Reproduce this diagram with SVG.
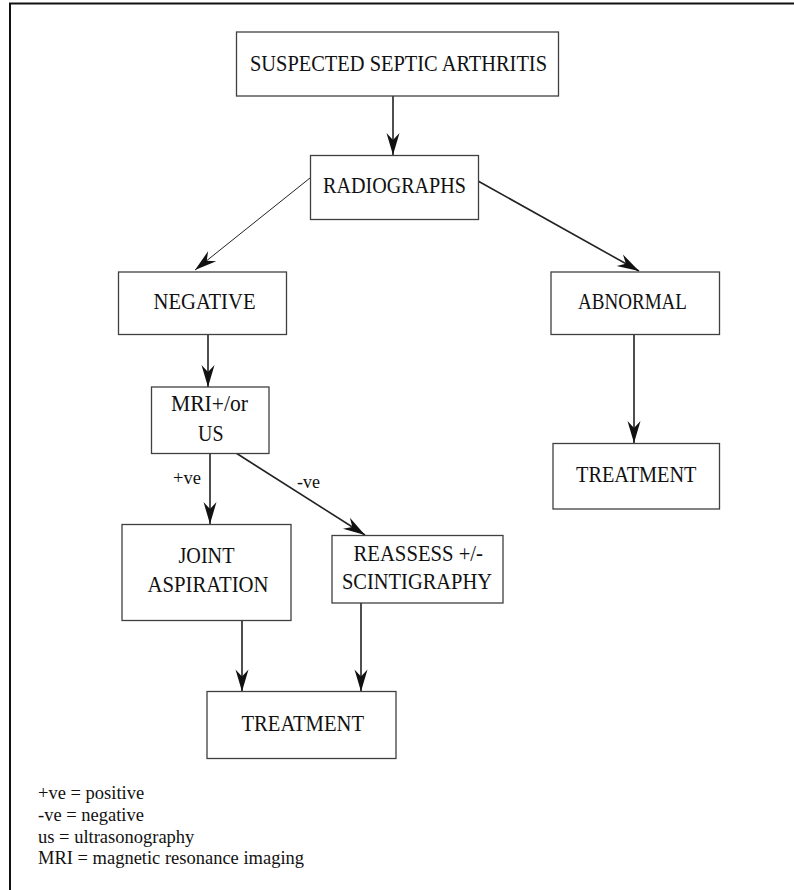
<svg xmlns="http://www.w3.org/2000/svg" width="794" height="890" viewBox="0 0 794 890">
<style>
.box{fill:#fff;stroke:#404040;stroke-width:1.3}
.t{font-family:"Liberation Serif","Times New Roman",serif;font-size:24px;fill:#111}
.s{font-family:"Liberation Serif","Times New Roman",serif;font-size:18.5px;fill:#111}
.c{stroke:#222;stroke-width:1.6;fill:none}
.thin{stroke-width:1}
</style>
<defs>
<marker id="ah" markerUnits="userSpaceOnUse" markerWidth="30" markerHeight="20" refX="24" refY="10" orient="auto" overflow="visible">
<path d="M24,10 L2,3.5 L9,10 L2,16.5 Z" fill="#111"/>
</marker>
</defs>
<rect width="794" height="890" fill="#fff"/>
<g id="frame" stroke="#111" stroke-width="2">
<line x1="9" y1="3.5" x2="794" y2="3.5"/>
<line x1="10" y1="3" x2="10" y2="890"/>
</g>
<g id="connectors">
<line class="c" x1="393" y1="96" x2="393" y2="155" marker-end="url(#ah)"/>
<line class="c thin" x1="310" y1="178" x2="195" y2="270" marker-end="url(#ah)"/>
<line class="c" x1="478" y1="181" x2="639" y2="271" marker-end="url(#ah)"/>
<line class="c" x1="208" y1="334" x2="208" y2="387" marker-end="url(#ah)"/>
<line class="c" x1="634" y1="334" x2="634" y2="443" marker-end="url(#ah)"/>
<line class="c" x1="210" y1="453" x2="210" y2="524" marker-end="url(#ah)"/>
<line class="c" x1="236" y1="453" x2="365" y2="535" marker-end="url(#ah)"/>
<line class="c" x1="242" y1="620" x2="242" y2="691.5" marker-end="url(#ah)"/>
<line class="c" x1="361" y1="603" x2="361" y2="691.5" marker-end="url(#ah)"/>
<text class="s" x="173" y="484" textLength="28" lengthAdjust="spacingAndGlyphs">+ve</text>
<text class="s" x="297" y="488" textLength="23" lengthAdjust="spacingAndGlyphs">-ve</text>
</g>
<g id="n1">
<rect class="box" x="236.5" y="32" width="322" height="64"/>
<text class="t" x="250" y="71" textLength="297" lengthAdjust="spacingAndGlyphs">SUSPECTED SEPTIC ARTHRITIS</text>
</g>
<g id="n2">
<rect class="box" x="310.5" y="155.5" width="168" height="64"/>
<text class="t" x="323" y="193" textLength="143" lengthAdjust="spacingAndGlyphs">RADIOGRAPHS</text>
</g>
<g id="n3">
<rect class="box" x="118.5" y="272" width="168" height="62.5"/>
<text class="t" x="153.5" y="309" textLength="102" lengthAdjust="spacingAndGlyphs">NEGATIVE</text>
</g>
<g id="n4">
<rect class="box" x="551" y="272" width="168.5" height="62.5"/>
<text class="t" x="578" y="309" textLength="109" lengthAdjust="spacingAndGlyphs">ABNORMAL</text>
</g>
<g id="n5">
<rect class="box" x="553" y="443.5" width="166.5" height="65.5"/>
<text class="t" x="576" y="482" textLength="120.5" lengthAdjust="spacingAndGlyphs">TREATMENT</text>
</g>
<g id="n6">
<rect class="box" x="151.5" y="387" width="117.5" height="66.5"/>
<text class="t" x="171" y="411" textLength="77" lengthAdjust="spacingAndGlyphs">MRI+/or</text>
<text class="t" x="198" y="440.5" textLength="25.5" lengthAdjust="spacingAndGlyphs">US</text>
</g>
<g id="n7">
<rect class="box" x="122" y="524.5" width="169" height="96"/>
<text class="t" x="178.5" y="563" textLength="56" lengthAdjust="spacingAndGlyphs">JOINT</text>
<text class="t" x="147.5" y="592" textLength="121" lengthAdjust="spacingAndGlyphs">ASPIRATION</text>
</g>
<g id="n8">
<rect class="box" x="332" y="535.5" width="171" height="67.5"/>
<text class="t" x="353.5" y="560.5" textLength="129.5" lengthAdjust="spacingAndGlyphs">REASSESS +/-</text>
<text class="t" x="342" y="589" textLength="150" lengthAdjust="spacingAndGlyphs">SCINTIGRAPHY</text>
</g>
<g id="n9">
<rect class="box" x="207" y="691.5" width="189" height="67"/>
<text class="t" x="241.5" y="731" textLength="122.5" lengthAdjust="spacingAndGlyphs">TREATMENT</text>
</g>
<g id="legend">
<text class="s" x="38" y="799">+ve = positive</text>
<text class="s" x="38" y="821">-ve = negative</text>
<text class="s" x="38" y="842.5">us = ultrasonography</text>
<text class="s" x="38" y="864" textLength="266" lengthAdjust="spacingAndGlyphs">MRI = magnetic resonance imaging</text>
</g>
</svg>
